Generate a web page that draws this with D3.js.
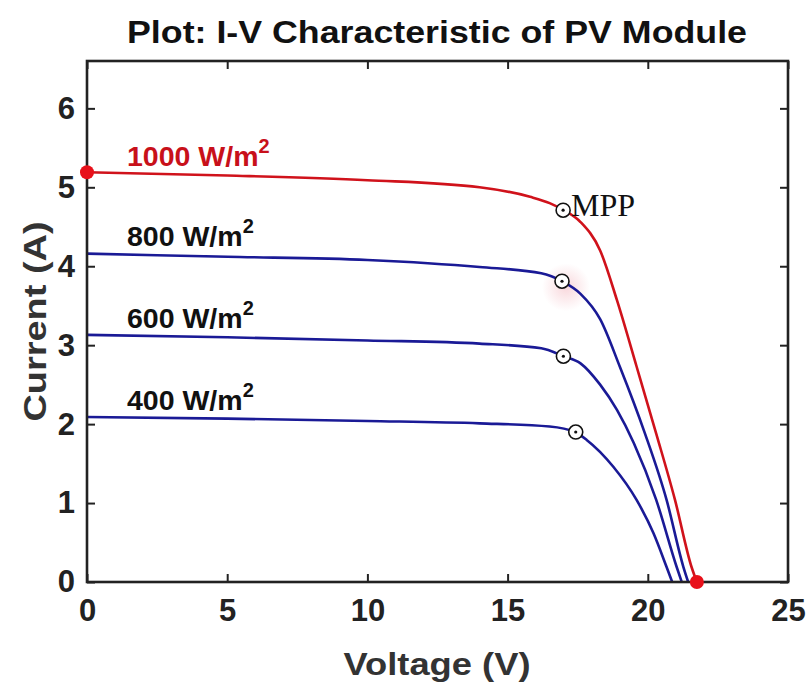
<!DOCTYPE html>
<html>
<head>
<meta charset="utf-8">
<script src="https://cdn.jsdelivr.net/npm/d3@7"></script>
<style>
  body { margin: 0; background: #fff; }
  text { font-family: "Liberation Sans", Arial, sans-serif; font-weight: bold; }
</style>
</head>
<body>
<svg width="810" height="687"></svg>
<script>
// irradiance curves: [voltage, current]
const curve1000 = [[0, 5.19], [5, 5.15], [10, 5.09], [14, 5.0], [15.8, 4.88], [16.5, 4.8], [17.0, 4.71],
  [17.6, 4.56], [18.3, 4.2], [18.9, 3.57], [19.6, 2.73], [20.3, 1.88], [20.97, 1.04], [21.56, 0.19], [21.75, 0]];
const curve800 = [[0, 4.16], [5, 4.12], [10, 4.08], [14, 3.99], [16.2, 3.91], [16.94, 3.81], [17.6, 3.65],
  [18.3, 3.33], [19.0, 2.73], [19.9, 1.88], [20.67, 1.04], [21.27, 0.19], [21.44, 0]];
const curve600 = [[0, 3.13], [5, 3.1], [10, 3.06], [14, 3.02], [16.2, 2.96], [17.0, 2.86], [17.6, 2.77],
  [18.3, 2.5], [18.9, 2.18], [19.5, 1.76], [20.3, 1.04], [21.03, 0.19], [21.21, 0]];
const curve400 = [[0, 2.09], [5, 2.07], [10, 2.04], [14, 2.01], [16.5, 1.97], [17.4, 1.9], [17.82, 1.8],
  [18.77, 1.46], [19.6, 1.04], [20.2, 0.62], [20.67, 0.19], [20.87, 0]];

const labels = ["1000", "800", "600", "400"];
const labelY = [5.2, 4.18, 3.14, 2.1];
const mpp = [[16.98, 4.71], [16.94, 3.81], [16.99, 2.86], [17.43, 1.9]];
const endPoints = [[0, 5.19], [21.75, 0]];
const xTicks = [0, 5, 10, 15, 20, 25];
const yTicks = [0, 1, 2, 3, 4, 5, 6];

const margin = {left: 87, right: 22, top: 61, bottom: 105};
const W = 810, H = 687;
const svg = d3.select("svg");

const x = d3.scaleLinear().domain([0, 25]).range([margin.left, W - margin.right]);
const y = d3.scaleLinear().domain([0, 6.6]).range([H - margin.bottom, margin.top]);

// faint pink smudge around the 800 MPP marker
const defs = svg.append("defs");
const grad = defs.append("radialGradient").attr("id", "glow");
grad.append("stop").attr("offset", "0%").attr("stop-color", "#f4b8c0").attr("stop-opacity", 0.55);
grad.append("stop").attr("offset", "100%").attr("stop-color", "#f4b8c0").attr("stop-opacity", 0);
svg.append("circle").attr("cx", x(mpp[1][0]) + 4).attr("cy", y(mpp[1][1]) + 6).attr("r", 24).attr("fill", "url(#glow)");

const line = d3.line().x(d => x(d[0])).y(d => y(d[1])).curve(d3.curveMonotoneX);

const curves = [curve1000, curve800, curve600, curve400];
const colors = ["#d0121b", "#1a1a96", "#1a1a96", "#1a1a96"];

// draw blue first so the red one sits on top
[3, 2, 1, 0].forEach(i => {
  svg.append("path").datum(curves[i]).attr("d", line)
    .attr("fill", "none").attr("stroke", colors[i]).attr("stroke-width", 2.6);
});

// irradiance labels
labels.forEach((l, i) => {
  const t = svg.append("text").attr("x", 127).attr("y", y(labelY[i]) - 6)
    .attr("font-size", 28.5).attr("fill", i === 0 ? "#c8101a" : "#111");
  t.append("tspan").text(l + " W/m");
  t.append("tspan").text("2").attr("font-size", 20).attr("dy", -13);
});

// axes with inward ticks on all four sides
const axB = d3.axisBottom(x).tickValues(xTicks).tickSize(-8).tickPadding(14).tickFormat(d3.format("d"));
const axL = d3.axisLeft(y).tickValues(yTicks).tickSize(-8).tickPadding(12).tickFormat(d3.format("d"));
const axT = d3.axisTop(x).tickValues(xTicks).tickSize(-8).tickFormat("");
const axR = d3.axisRight(y).tickValues(yTicks).tickSize(-8).tickFormat("");

function style(g) {
  g.select(".domain").remove();
  g.selectAll(".tick line").attr("stroke", "#222").attr("stroke-width", 2);
  g.selectAll(".tick text").attr("font-size", 31).attr("fill", "#222")
    .style("font-family", "'Liberation Sans', Arial, sans-serif").style("font-weight", "bold");
}
svg.append("g").attr("transform", `translate(0,${y(0)})`).call(axB).call(style)
  .selectAll(".tick text").attr("dy", "0.82em");
svg.append("g").attr("transform", `translate(${x(0)},0)`).call(axL).call(style);
svg.append("g").attr("transform", `translate(0,${y(6.6)})`).call(axT).call(style);
svg.append("g").attr("transform", `translate(${x(25)},0)`).call(axR).call(style);

svg.append("rect").attr("x", x(0)).attr("y", y(6.6))
  .attr("width", x(25) - x(0)).attr("height", y(0) - y(6.6))
  .attr("fill", "none").attr("stroke", "#222").attr("stroke-width", 2.6);

// MPP markers
const mg = svg.append("g").selectAll("g").data(mpp).join("g")
  .attr("transform", d => `translate(${x(d[0])},${y(d[1])})`);
mg.append("circle").attr("r", 7).attr("fill", "#fff").attr("stroke", "#111").attr("stroke-width", 1.6);
mg.append("circle").attr("r", 1.6).attr("fill", "#111");

svg.append("text").attr("x", x(mpp[0][0]) + 8).attr("y", y(mpp[0][1]) + 6)
  .attr("font-size", 32).style("font-family", "'Liberation Serif', 'Times New Roman', serif")
  .style("font-weight", "normal").attr("fill", "#111").text("MPP");

// Isc and Voc dots
svg.append("g").selectAll("circle").data(endPoints).join("circle")
  .attr("cx", d => x(d[0])).attr("cy", d => y(d[1])).attr("r", 7).attr("fill", "#e8101a");

// titles
svg.append("text").attr("x", 437).attr("y", 43).attr("text-anchor", "middle")
  .attr("font-size", 31).attr("textLength", 620).attr("lengthAdjust", "spacingAndGlyphs")
  .attr("fill", "#111").text("Plot: I-V Characteristic of PV Module");
svg.append("text").attr("x", 437).attr("y", 675).attr("text-anchor", "middle")
  .attr("font-size", 32).attr("textLength", 187).attr("lengthAdjust", "spacingAndGlyphs")
  .attr("fill", "#333").text("Voltage (V)");
svg.append("text").attr("transform", `translate(46,${y(3.3)}) rotate(-90)`).attr("text-anchor", "middle")
  .attr("font-size", 32).attr("textLength", 200).attr("lengthAdjust", "spacingAndGlyphs")
  .attr("fill", "#333").text("Current (A)");
</script>
</body>
</html>
